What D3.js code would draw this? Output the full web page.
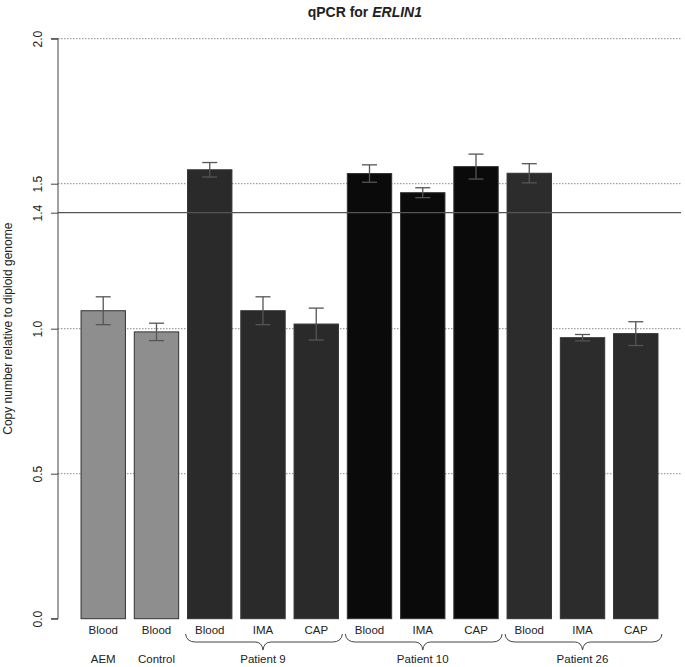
<!DOCTYPE html>
<html><head><meta charset="utf-8">
<script src="https://cdn.jsdelivr.net/npm/d3@7"></script>
<style>body{margin:0;background:#fff}svg{display:block;font-family:"Liberation Sans",Arial,sans-serif}</style>
</head><body><svg id="c" width="685" height="667"></svg>
<script>
const categories = ["Blood","Blood","Blood","IMA","CAP","Blood","IMA","CAP","Blood","IMA","CAP"];
const groupOf = ["AEM","Control","Patient 9","Patient 9","Patient 9","Patient 10","Patient 10","Patient 10","Patient 26","Patient 26","Patient 26"];
const values = [1.062,0.989,1.548,1.062,1.016,1.535,1.469,1.559,1.536,0.969,0.983];
const errors = [0.048,0.030,0.025,0.048,0.055,0.030,0.017,0.043,0.033,0.011,0.041];
const groups = ["AEM","Control","Patient 9","Patient 10","Patient 26"];
const groupColors = ["#8e8e8e","#8e8e8e","#2a2a2a","#0a0a0a","#2c2c2c"];
const yTicks = [0.0,0.5,1.0,1.4,1.5,2.0];
const dottedRefs = [0.5,1.0,1.5,2.0];
const solidRef = 1.4;

const svg = d3.select("#c");
const x = d3.scaleBand().domain(d3.range(values.length)).range([76.6,662.4]).paddingInner(0.2/1.2).paddingOuter(0.2/2.4);
const y = d3.scaleLinear().domain([0,2]).range([618.7,38.7]);
const plotL = 58, plotR = 681;

// dotted reference lines (behind bars)
svg.append("g").selectAll("line").data(dottedRefs).join("line")
  .attr("x1",plotL).attr("x2",plotR).attr("y1",d=>y(d)).attr("y2",d=>y(d))
  .attr("stroke","#888").attr("stroke-width",1).attr("stroke-dasharray","1.5,1.5");

// bars
svg.append("g").selectAll("rect").data(values).join("rect")
  .attr("x",(d,i)=>x(i)).attr("width",x.bandwidth())
  .attr("y",d=>y(d)).attr("height",d=>y(0)-y(d))
  .attr("fill",(d,i)=>groupColors[groups.indexOf(groupOf[i])])
  .attr("stroke","#333").attr("stroke-width",1);

// solid reference line on top
svg.append("line").attr("x1",plotL).attr("x2",plotR).attr("y1",y(solidRef)).attr("y2",y(solidRef))
  .attr("stroke","#555").attr("stroke-width",1.2);

// error bars
const eb = svg.append("g").attr("stroke","#555").attr("stroke-width",1.3);
values.forEach((v,i)=>{
  const cx = x(i)+x.bandwidth()/2;
  eb.append("line").attr("x1",cx).attr("x2",cx).attr("y1",y(v+errors[i])).attr("y2",y(v-errors[i]));
  [v+errors[i],v-errors[i]].forEach(e=>eb.append("line").attr("x1",cx-7.5).attr("x2",cx+7.5).attr("y1",y(e)).attr("y2",y(e)));
});

// y axis
const yAxis = d3.axisLeft(y).tickValues(yTicks).tickFormat(d3.format(".1f")).tickSize(7).tickPadding(6);
const ga = svg.append("g").attr("transform",`translate(${plotL},0)`).call(yAxis);
ga.attr("font-family",null);
ga.select(".domain").attr("stroke","#444").attr("d",`M-7,${y(2)}H0V${y(0)}H-7`);
ga.selectAll(".tick line").attr("stroke","#444");
ga.selectAll(".tick text").attr("font-size",12).attr("fill","#222")
  .each(function(){
    d3.select(this).attr("x",null).attr("text-anchor","middle")
      .attr("transform",`translate(-20,0) rotate(-90)`).attr("y",0).attr("dy","0.35em");
  });

// y title
svg.append("text").attr("transform",`translate(12,${(y(0)+y(2))/2}) rotate(-90)`)
  .attr("text-anchor","middle").attr("font-size",12).attr("fill","#222")
  .text("Copy number relative to diploid genome");

// title
const t = svg.append("text").attr("x",(48.7+plotR)/2).attr("y",17).attr("text-anchor","middle")
  .attr("font-size",14).attr("font-weight","bold").attr("fill","#222");
t.append("tspan").text("qPCR for ");
t.append("tspan").attr("font-style","italic").text("ERLIN1");

// category labels
svg.append("g").selectAll("text").data(categories).join("text")
  .attr("x",(d,i)=>x(i)+x.bandwidth()/2).attr("y",634).attr("text-anchor","middle")
  .attr("font-size",11.5).attr("fill","#222").text(d=>d);

// group labels and braces
groups.forEach(g=>{
  const idx = d3.range(values.length).filter(i=>groupOf[i]===g);
  const x0 = x(idx[0]), x1 = x(idx[idx.length-1])+x.bandwidth();
  const cx = (x0+x1)/2;
  svg.append("text").attr("x",cx).attr("y",663).attr("text-anchor","middle")
    .attr("font-size",11.5).attr("fill","#222").text(g);
  if(idx.length>1){
    const l = x0-2, r = x1+4, yt = 634, ym = 642, yb = 650;
    const p = `M${l},${yt} Q${l+1},${ym} ${l+10},${ym} L${cx-8},${ym} Q${cx-1},${ym} ${cx},${yb} Q${cx+1},${ym} ${cx+8},${ym} L${r-10},${ym} Q${r-1},${ym} ${r},${yt}`;
    svg.append("path").attr("d",p).attr("fill","none").attr("stroke","#444").attr("stroke-width",1);
  }
});
</script></body></html>
